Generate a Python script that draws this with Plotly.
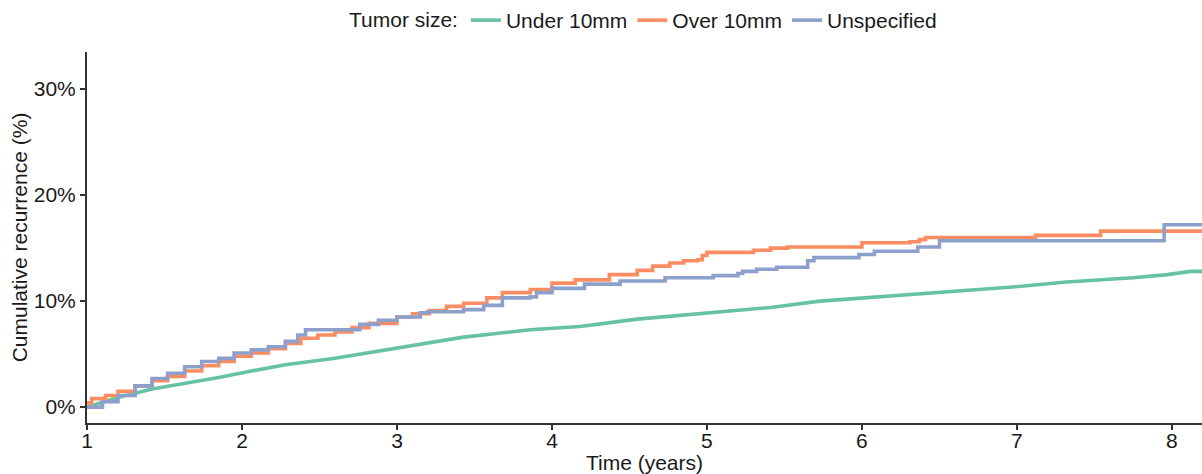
import plotly.graph_objects as go

# Under 10mm (green)
t_under = [1.0, 1.2, 1.42, 1.63, 1.85, 2.06, 2.28, 2.6, 3.0, 3.43, 3.86, 4.18, 4.55, 4.97,
           5.41, 5.73, 6.1, 6.52, 6.95, 7.32, 7.75, 7.97, 8.12, 8.2]
y_under = [0.0, 0.9, 1.7, 2.2, 2.8, 3.4, 4.0, 4.6, 5.6, 6.6, 7.3, 7.6, 8.3, 8.8,
           9.4, 10.0, 10.4, 10.9, 11.3, 11.8, 12.2, 12.5, 12.8, 12.8]

# Over 10mm (orange)
t_over = [1.0, 1.03, 1.12, 1.2, 1.31, 1.42, 1.52, 1.63, 1.74, 1.85, 1.95, 2.06, 2.17, 2.28,
          2.38, 2.49, 2.6, 2.71, 2.82, 3.0, 3.1, 3.21, 3.32, 3.43, 3.58, 3.68, 3.86, 4.0,
          4.15, 4.37, 4.55, 4.65, 4.76, 4.85, 4.94, 4.97, 5.0, 5.3, 5.41, 5.52, 6.0,
          6.31, 6.37, 6.41, 7.12, 7.54, 8.2]
y_over = [0.4, 0.8, 1.1, 1.5, 2.0, 2.5, 2.9, 3.4, 3.9, 4.3, 4.8, 5.1, 5.5, 6.0,
          6.5, 6.8, 7.1, 7.5, 7.9, 8.5, 8.8, 9.1, 9.5, 9.8, 10.3, 10.8, 11.1, 11.7,
          12.0, 12.5, 12.9, 13.3, 13.6, 13.8, 13.9, 14.3, 14.6, 14.8, 15.0, 15.1, 15.5,
          15.6, 15.8, 16.0, 16.2, 16.6, 16.6]

# Unspecified (blue)
t_unspec = [1.0, 1.1, 1.2, 1.31, 1.42, 1.52, 1.63, 1.74, 1.85, 1.95, 2.06, 2.17, 2.28, 2.36,
            2.41, 2.76, 2.88, 3.0, 3.15, 3.2, 3.43, 3.56, 3.68, 3.86, 3.9, 4.0, 4.21, 4.44,
            4.73, 5.04, 5.2, 5.23, 5.32, 5.45, 5.65, 5.69, 5.98, 6.08, 6.36, 6.5, 7.95, 8.2]
y_unspec = [0.0, 0.5, 1.1, 2.0, 2.7, 3.2, 3.8, 4.3, 4.6, 5.1, 5.4, 5.7, 6.2, 6.8,
            7.3, 7.8, 8.2, 8.5, 8.9, 9.0, 9.2, 9.6, 10.3, 10.4, 10.8, 11.2, 11.6, 11.9,
            12.2, 12.4, 12.6, 12.8, 13.0, 13.2, 13.8, 14.1, 14.4, 14.7, 15.1, 15.7, 17.2, 17.2]

y_ticks = [0, 10, 20, 30]
y_tick_labels = ["0%", "10%", "20%", "30%"]
x_ticks = [1, 2, 3, 4, 5, 6, 7, 8]

fig = go.Figure()
fig.add_trace(go.Scatter(x=t_under, y=y_under, mode="lines", name="Under 10mm",
                         line=dict(color="#66c2a5", width=3.6, shape="linear")))
fig.add_trace(go.Scatter(x=t_over, y=y_over, mode="lines", name="Over 10mm",
                         line=dict(color="#fc8d62", width=3.6, shape="hv")))
fig.add_trace(go.Scatter(x=t_unspec, y=y_unspec, mode="lines", name="Unspecified",
                         line=dict(color="#8da0cb", width=3.6, shape="hv")))

fig.update_layout(
    width=1202, height=474,
    margin=dict(l=87, r=0, t=52, b=51),
    paper_bgcolor="white", plot_bgcolor="white",
    font=dict(family="Liberation Sans, Arial, sans-serif", size=21, color="#1a1a1a"),
    showlegend=True,
    legend=dict(orientation="h", x=0.5, xanchor="center", xref="paper",
                y=1.0, yanchor="top", yref="container",
                title=dict(text="Tumor size:", side="left", font=dict(size=21)),
                font=dict(size=21), itemwidth=30, tracegroupgap=0,
                bgcolor="rgba(0,0,0,0)"),
    xaxis=dict(range=[1, 8.194], tickvals=x_ticks, ticks="outside", ticklen=5,
               tickwidth=1.5, tickcolor="#333", showline=True, linecolor="#333",
               linewidth=2, showgrid=False, zeroline=False, automargin=False,
               ticklabelstandoff=-7,
               title=dict(text="Time (years)", standoff=0, font=dict(size=21)),
               tickfont=dict(size=21)),
    yaxis=dict(range=[-1.5, 33.5], tickvals=y_ticks, ticktext=y_tick_labels,
               ticks="outside", ticklen=5, tickwidth=1.5, tickcolor="#333",
               showline=True, linecolor="#333", linewidth=2, showgrid=False,
               zeroline=False, automargin=False,
               title=dict(text="Cumulative recurrence (%)", standoff=0, font=dict(size=21)),
               tickfont=dict(size=21)),
)

fig.write_html("out.html", config={"displayModeBar": False},
               post_script="document.body.style.margin='0';")
